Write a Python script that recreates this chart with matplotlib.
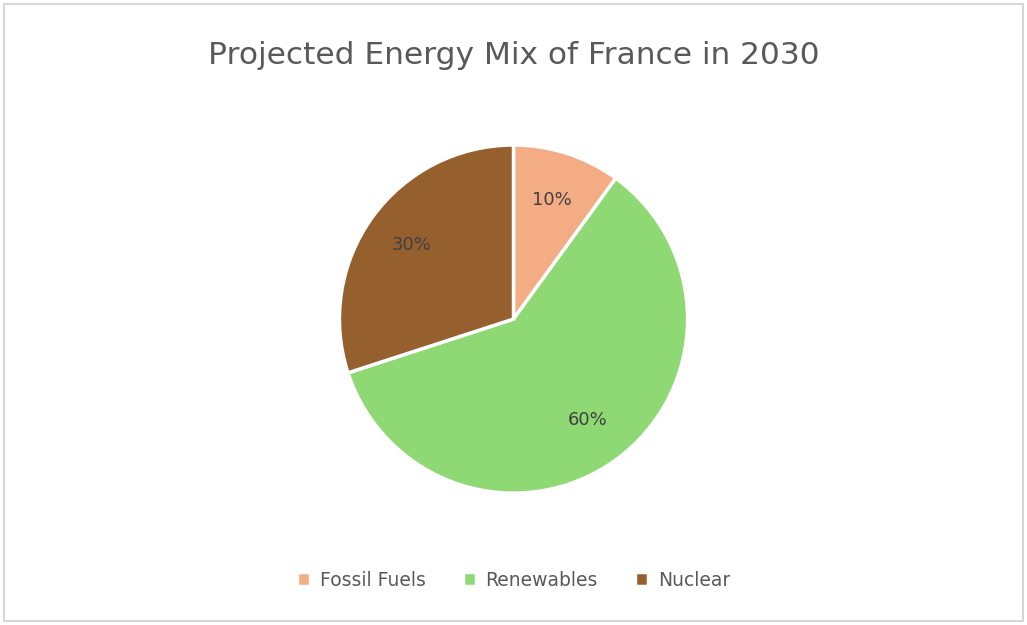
import matplotlib.pyplot as plt
from matplotlib.patches import Rectangle

# chart data
categories = ["Fossil Fuels", "Renewables", "Nuclear"]
shares = [10, 60, 30]
colors = ["#F4AC84", "#8FD975", "#96602E"]

fig = plt.figure(figsize=(10.27, 6.25), dpi=100)
fig.patches.append(Rectangle((0.004, 0.006), 0.992, 0.988, transform=fig.transFigure,
                             fill=False, edgecolor="#D0D0D0", linewidth=1.2))

ax = fig.add_axes([0.3305, 0.211, 0.339, 0.557])
wedges, texts, autotexts = ax.pie(
    shares, colors=colors, startangle=90, counterclock=False,
    autopct="%d%%", pctdistance=0.72,
    wedgeprops=dict(edgecolor="white", linewidth=2.5),
    textprops=dict(fontsize=13, color="#404040"))
ax.set_xlim(-1, 1)
ax.set_ylim(-1, 1)
ax.set_aspect("equal")

fig.text(0.5, 0.912, "Projected Energy Mix of France in 2030", ha="center", va="center",
         fontsize=22.5, color="#595959")

fig.legend(wedges, categories, loc="center", bbox_to_anchor=(0.5, 0.072), ncol=3,
           frameon=False, fontsize=13.5, handlelength=0.7, handleheight=0.7,
           columnspacing=2.0, handletextpad=0.5, labelcolor="#595959")

fig.savefig("out.png", dpi=100)
